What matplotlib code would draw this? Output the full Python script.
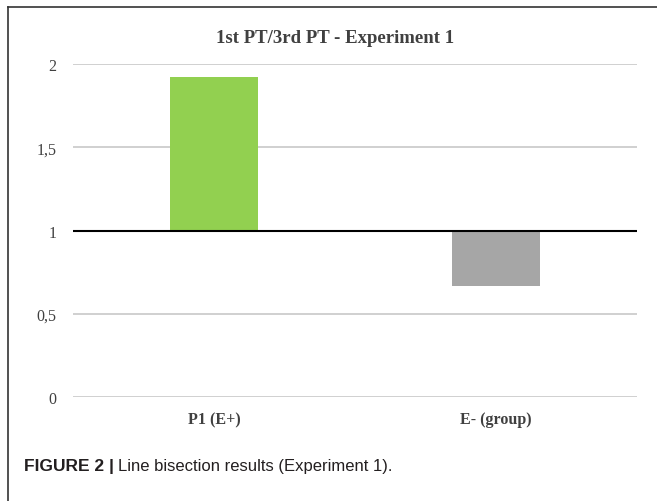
import numpy as np
import matplotlib
matplotlib.use('Agg')
import matplotlib.pyplot as plt

### data ###
groups = ['P1 (E+)', 'E- (group)']
ratios = [1.92, 0.67]
bar_colors = ['#92d050', '#a6a6a6']
yticks = [0, 0.5, 1, 1.5, 2]
ytick_labels = ['0', '0,5', '1', '1,5', '2']

fig = plt.figure(figsize=(6.57, 5.02), dpi=100)
ax = fig.add_axes([0.111, 0.207, 0.8585, 0.6635])

x = np.arange(len(groups))
heights = [r - 1 for r in ratios]
ax.bar(x, heights, bottom=1, width=0.31, color=bar_colors, zorder=3)

ax.set_xlim(-0.5, 1.5)
ax.set_ylim(0, 2)
ax.set_yticks(yticks)
ax.set_yticklabels(ytick_labels, family='Liberation Serif', fontsize=11.5, color='#404040')
ax.set_xticks(x)
ax.set_xticklabels(groups, family='Liberation Serif', fontsize=11.5, fontweight='bold', color='#404040')
ax.tick_params(length=0, axis='y', pad=12)
ax.tick_params(length=0, axis='x', pad=10)
ax.grid(axis='y', color='#c8c8c8', linewidth=1.2, zorder=0)
ax.axhline(1, color='black', linewidth=1.5, zorder=4)
for s in ax.spines.values():
    s.set_visible(False)

fig.text(0.51, 0.923, '1st PT/3rd PT - Experiment 1', ha='center', va='center',
         family='Liberation Serif', fontsize=13.5, fontweight='bold', color='#404040')

# caption: bold part then regular part right after it
cap_y = 0.07
t1 = fig.text(0.036, cap_y, 'FIGURE 2 |', ha='left', va='center',
              family='Liberation Sans', fontsize=12.5, fontweight='bold', color='#231f20')
fig.canvas.draw()
bb = t1.get_window_extent(fig.canvas.get_renderer())
x2 = (bb.x1 + 4) / fig.bbox.width
fig.text(x2, cap_y, 'Line bisection results (Experiment 1).', ha='left', va='center',
         family='Liberation Sans', fontsize=12, color='#231f20')

# frame on top and left
fig.add_artist(plt.Line2D([0.012, 1], [0.985, 0.985], color='#333333', linewidth=1.2))
fig.add_artist(plt.Line2D([0.012, 0.012], [0, 0.985], color='#333333', linewidth=1.2))

fig.savefig('out.png', dpi=100)
